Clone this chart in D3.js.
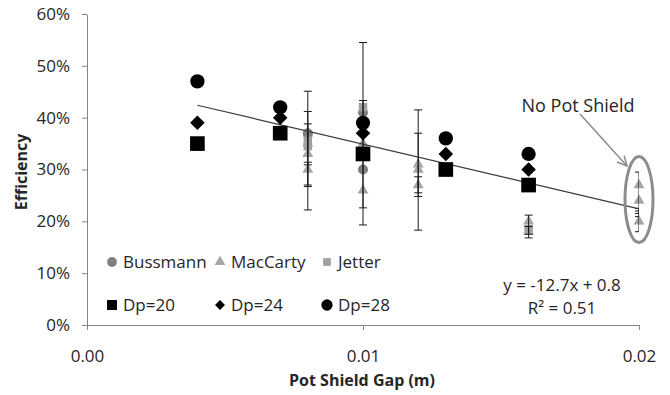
<!DOCTYPE html>
<html>
<head>
<meta charset="utf-8">
<script src="https://cdn.jsdelivr.net/npm/d3@7"></script>
<style>
  html, body { margin: 0; padding: 0; background: #fff; }
  svg text { font-family: "Open Sans", "Noto Sans", sans-serif; fill: #262626; }
</style>
</head>
<body>
<svg id="chart" width="670" height="395"></svg>
<script>
// Dp model results (black markers), efficiency as fraction
const dpGaps = [0.004, 0.007, 0.010, 0.013, 0.016];
const dp20 = [0.35, 0.37, 0.33, 0.30, 0.27];
const dp24 = [0.39, 0.40, 0.37, 0.33, 0.30];
const dp28 = [0.47, 0.42, 0.39, 0.36, 0.33];

// Measured data from the literature (grey markers): [gap, efficiency]
const bussmann = [[0.008, 0.37], [0.010, 0.30], [0.010, 0.41]];
const jetter = [[0.008, 0.355], [0.008, 0.345], [0.010, 0.42], [0.016, 0.185]];
const maccarty = [
  [0.008, 0.37], [0.008, 0.35], [0.008, 0.33], [0.008, 0.30],
  [0.010, 0.26], [0.010, 0.35],
  [0.012, 0.31], [0.012, 0.30], [0.012, 0.27],
  [0.016, 0.20], [0.016, 0.18],
  [0.020, 0.27], [0.020, 0.24], [0.020, 0.20]
];

// Error bars: [gap, low, high]
const errorBars = [
  [0.008, 0.222, 0.451], [0.008, 0.267, 0.412], [0.008, 0.309, 0.388], [0.008, 0.270, 0.314],
  [0.010, 0.193, 0.545], [0.010, 0.226, 0.433],
  [0.012, 0.183, 0.415], [0.012, 0.248, 0.370], [0.012, 0.255, 0.286],
  [0.016, 0.168, 0.212], [0.016, 0.175, 0.190],
  [0.020, 0.180, 0.295], [0.020, 0.209, 0.225], [0.020, 0.215, 0.220]
];

// Linear trend line end points
const trendX = [0.004, 0.020];
const trendY = [0.424, 0.224];
const trendLabel = ["y = -12.7x + 0.8", "R\u00B2 = 0.51"];

const xTicks = [0, 0.01, 0.02];
const yTicks = [0, 0.1, 0.2, 0.3, 0.4, 0.5, 0.6];

const svg = d3.select("#chart");
const x = d3.scaleLinear().domain([0, 0.02]).range([87, 639]);
const y = d3.scaleLinear().domain([0, 0.6]).range([325, 14]);
const axisColor = "#868686";

// Axes
const yAxis = svg.append("g").attr("transform", `translate(${x(0)},0)`)
  .call(d3.axisLeft(y).tickValues(yTicks).tickFormat(d3.format(".0%")).tickSize(5).tickSizeOuter(0).tickPadding(12));
const xAxis = svg.append("g").attr("transform", `translate(0,${y(0)})`)
  .call(d3.axisBottom(x).tickValues(xTicks).tickFormat(d3.format(".2f")).tickSize(5).tickSizeOuter(0).tickPadding(20));
[xAxis, yAxis].forEach(g => {
  g.selectAll("path, line").attr("stroke", axisColor);
  g.selectAll("text").attr("font-size", 17).attr("fill", "#262626")
    .style("font-family", '"Open Sans", sans-serif');
});

// Axis titles
svg.append("text").attr("x", 362).attr("y", 386).attr("text-anchor", "middle")
  .attr("font-size", 16).attr("font-weight", "bold").text("Pot Shield Gap (m)");
svg.append("text").attr("transform", "translate(27,172) rotate(-90)").attr("text-anchor", "middle")
  .attr("font-size", 16).attr("font-weight", "bold").text("Efficiency");

const plot = svg.append("g");
const sym = (type, size) => d3.symbol().type(type).size(size);
// Diamonds are drawn as squares turned by 45 degrees
const place = (cx, cy, type) => `translate(${cx},${cy})` + (type === "diamond" ? " rotate(45)" : "");
const shape = t => t === "diamond" ? d3.symbolSquare : t;

// Grey literature markers
const greyCircle = "#7f7f7f", greyTri = "#a6a6a6", greySq = "#a0a0a0";
plot.selectAll(".tri").data(maccarty).join("path")
  .attr("transform", d => `translate(${x(d[0])},${y(d[1])})`)
  .attr("d", sym(d3.symbolTriangle, 52)).attr("fill", greyTri);
plot.selectAll(".bus").data(bussmann).join("path")
  .attr("transform", d => `translate(${x(d[0])},${y(d[1])})`)
  .attr("d", sym(d3.symbolCircle, 80)).attr("fill", greyCircle);
plot.selectAll(".jet").data(jetter).join("path")
  .attr("transform", d => `translate(${x(d[0])},${y(d[1])})`)
  .attr("d", sym(d3.symbolSquare, 72)).attr("fill", greySq);

// Error bars (clipped at the right edge of the plot area)
svg.append("clipPath").attr("id", "plotClip").append("rect")
  .attr("x", x(0)).attr("y", y(0.6) - 2).attr("width", x(0.02) - x(0)).attr("height", y(0) - y(0.6) + 2);
const eb = plot.append("g").attr("clip-path", "url(#plotClip)")
  .attr("stroke", "#1a1a1a").attr("stroke-width", 1);
errorBars.forEach(([gx, lo, hi]) => {
  const cx = x(gx);
  eb.append("line").attr("x1", cx).attr("x2", cx).attr("y1", y(lo)).attr("y2", y(hi));
  [lo, hi].forEach(v => eb.append("line").attr("x1", cx - 4).attr("x2", cx + 4).attr("y1", y(v)).attr("y2", y(v)));
});

// Trend line
plot.append("line")
  .attr("x1", x(trendX[0])).attr("y1", y(trendY[0]))
  .attr("x2", x(trendX[1])).attr("y2", y(trendY[1]))
  .attr("stroke", "#3a3a3a").attr("stroke-width", 1.2);

// Black Dp markers
const dpSeries = [
  { vals: dp20, type: d3.symbolSquare, size: 215 },
  { vals: dp24, type: "diamond", size: 105 },
  { vals: dp28, type: d3.symbolCircle, size: 160 }
];
dpSeries.forEach(s => {
  plot.append("g").selectAll("path").data(s.vals).join("path")
    .attr("transform", (d, i) => place(x(dpGaps[i]), y(d), s.type))
    .attr("d", sym(shape(s.type), s.size)).attr("fill", "#000");
});

// Trend equation
svg.append("text").attr("x", 562).attr("y", 291).attr("text-anchor", "middle").attr("font-size", 17).text(trendLabel[0]);
svg.append("text").attr("x", 562).attr("y", 314).attr("text-anchor", "middle").attr("font-size", 17).text(trendLabel[1]);

// "No Pot Shield" annotation
svg.append("text").attr("x", 578).attr("y", 112).attr("text-anchor", "middle").attr("font-size", 18).text("No Pot Shield");
svg.append("ellipse").attr("cx", x(0.02)).attr("cy", y(0.242)).attr("rx", 14).attr("ry", 43)
  .attr("fill", "none").attr("stroke", "#8c8c8c").attr("stroke-width", 3);
svg.append("defs").append("marker").attr("id", "arrowHead")
  .attr("viewBox", "0 0 10 10").attr("refX", 9).attr("refY", 5)
  .attr("markerWidth", 8).attr("markerHeight", 8).attr("orient", "auto")
  .append("path").attr("d", "M1,1 L9,5 L1,9").attr("fill", "none").attr("stroke", "#8c8c8c").attr("stroke-width", 1.3);
svg.append("line").attr("x1", 580).attr("y1", 114).attr("x2", 627).attr("y2", 166)
  .attr("stroke", "#8c8c8c").attr("stroke-width", 1.5).attr("marker-end", "url(#arrowHead)");

// Legend
const legendRows = [
  [{ label: "Bussmann", type: d3.symbolCircle, size: 75, fill: greyCircle },
   { label: "MacCarty", type: d3.symbolTriangle, size: 50, fill: greyTri },
   { label: "Jetter", type: d3.symbolSquare, size: 60, fill: greySq }],
  [{ label: "Dp=20", type: d3.symbolSquare, size: 100, fill: "#000" },
   { label: "Dp=24", type: "diamond", size: 50, fill: "#000" },
   { label: "Dp=28", type: d3.symbolCircle, size: 100, fill: "#000" }]
];
const legendX = [112, 220, 327];
const legendY = [262, 305];
legendRows.forEach((row, r) => row.forEach((item, c) => {
  const g = svg.append("g").attr("transform", `translate(${legendX[c]},${legendY[r]})`);
  g.append("path").attr("transform", item.type === "diamond" ? "rotate(45)" : null)
    .attr("d", sym(shape(item.type), item.size)).attr("fill", item.fill);
  g.append("text").attr("x", 11).attr("y", 6).attr("font-size", 17).text(item.label);
}));
</script>
</body>
</html>
